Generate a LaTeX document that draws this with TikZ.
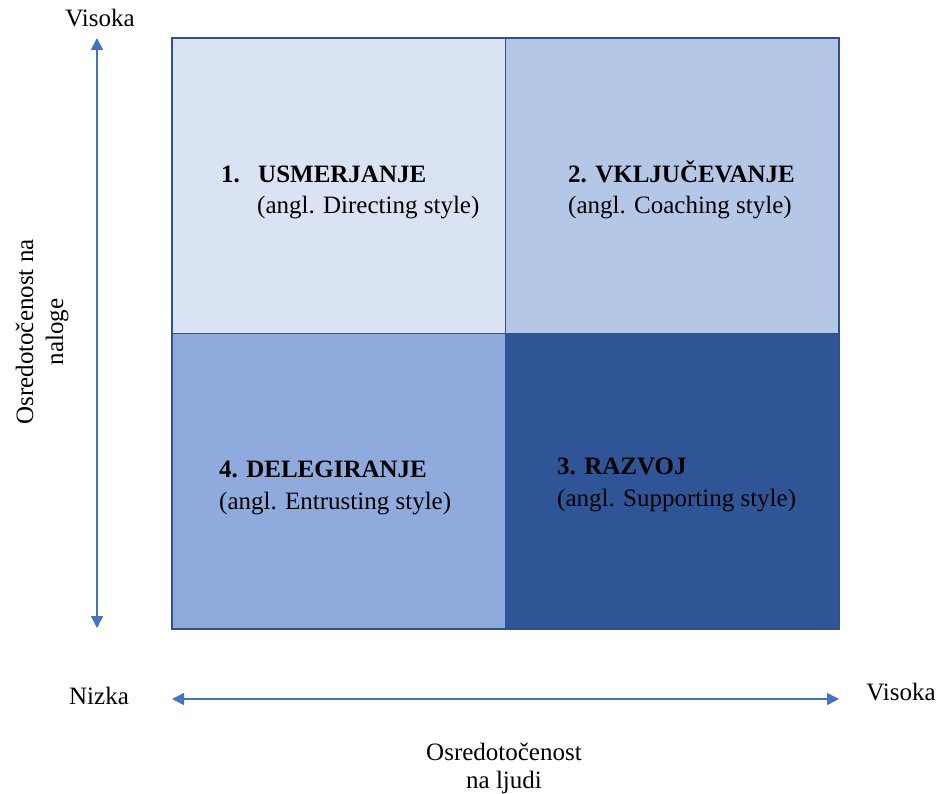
\documentclass[tikz,border=0pt]{standalone}
\usepackage{fontspec}
\setmainfont{Liberation Serif}
\usetikzlibrary{arrows.meta}
\definecolor{qone}{HTML}{DAE3F3}
\definecolor{qtwo}{HTML}{B4C7E7}
\definecolor{qfour}{HTML}{8FAADC}
\definecolor{qthree}{HTML}{2F5597}
\definecolor{qborder}{HTML}{2F528F}
\definecolor{axisblue}{HTML}{4472C4}
\tikzset{
  quad/.style={draw=qborder, line width=1.6pt, minimum width=333.5pt, minimum height=295.5pt, inner sep=0pt, outer sep=0pt},
  lbl/.style={inner sep=0pt, anchor=base west, font=\fontsize{25}{31}\selectfont, text=black},
  boldlbl/.style={lbl, font=\fontsize{25}{31}\selectfont\bfseries},
  axlbl/.style={inner sep=0pt, anchor=base, font=\fontsize{25}{31}\selectfont, text=black},
  axisarrow/.style={draw=axisblue, line width=1.5pt, {Triangle[width=12pt,length=12pt]}-{Triangle[width=12pt,length=12pt]}}
}
\begin{document}
\begin{tikzpicture}[x=1pt,y=-1pt]
\useasboundingbox (0,0) rectangle (938,794);
% quadrants
\node[quad, fill=qone, anchor=north west] (q1) at (172,38) {};
\node[quad, fill=qtwo, anchor=north east] (q2) at (839,38) {};
\node[quad, fill=qfour, anchor=south west] (q4) at (172,629) {};
\node[quad, fill=qthree, anchor=south east] (q3) at (839,629) {};
% texts
\node[boldlbl] (t1n) at (221,183) {1.};
\node[boldlbl] (t1) at (258,183) {USMERJANJE};
\node[lbl] (t1s) at (257,214) {(angl. Directing style)};
\node[boldlbl] (t2) at (568,183) {2. VKLJUČEVANJE};
\node[lbl] (t2s) at (568,214) {(angl. Coaching style)};
\node[boldlbl] (t4) at (219,478) {4. DELEGIRANJE};
\node[lbl] (t4s) at (219,509) {(angl. Entrusting style)};
\node[boldlbl] (t3) at (557,475) {3. RAZVOJ};
\node[lbl] (t3s) at (557,506) {(angl. Supporting style)};
% axis labels
\node[axlbl] (vtop) at (100,27) {Visoka};
\node[axlbl] (nizka) at (99,704) {Nizka};
\node[axlbl] (vright) at (901,700) {Visoka};
\node[axlbl] (xl1) at (504,760) {Osredotočenost};
\node[axlbl] (xl2) at (504,788) {na ljudi};
\node[axlbl, rotate=90] (yl1) at (33,332) {Osredotočenost na};
\node[axlbl, rotate=90] (yl2) at (63,332) {naloge};
% axes
\coordinate (vt) at (97,38);
\coordinate (vb) at (97,628);
\coordinate (hl) at (172,699);
\coordinate (hr) at (839,699);
\draw[axisarrow] (vb) -- (vt);
\draw[axisarrow] (hl) -- (hr);
\end{tikzpicture}
\end{document}
